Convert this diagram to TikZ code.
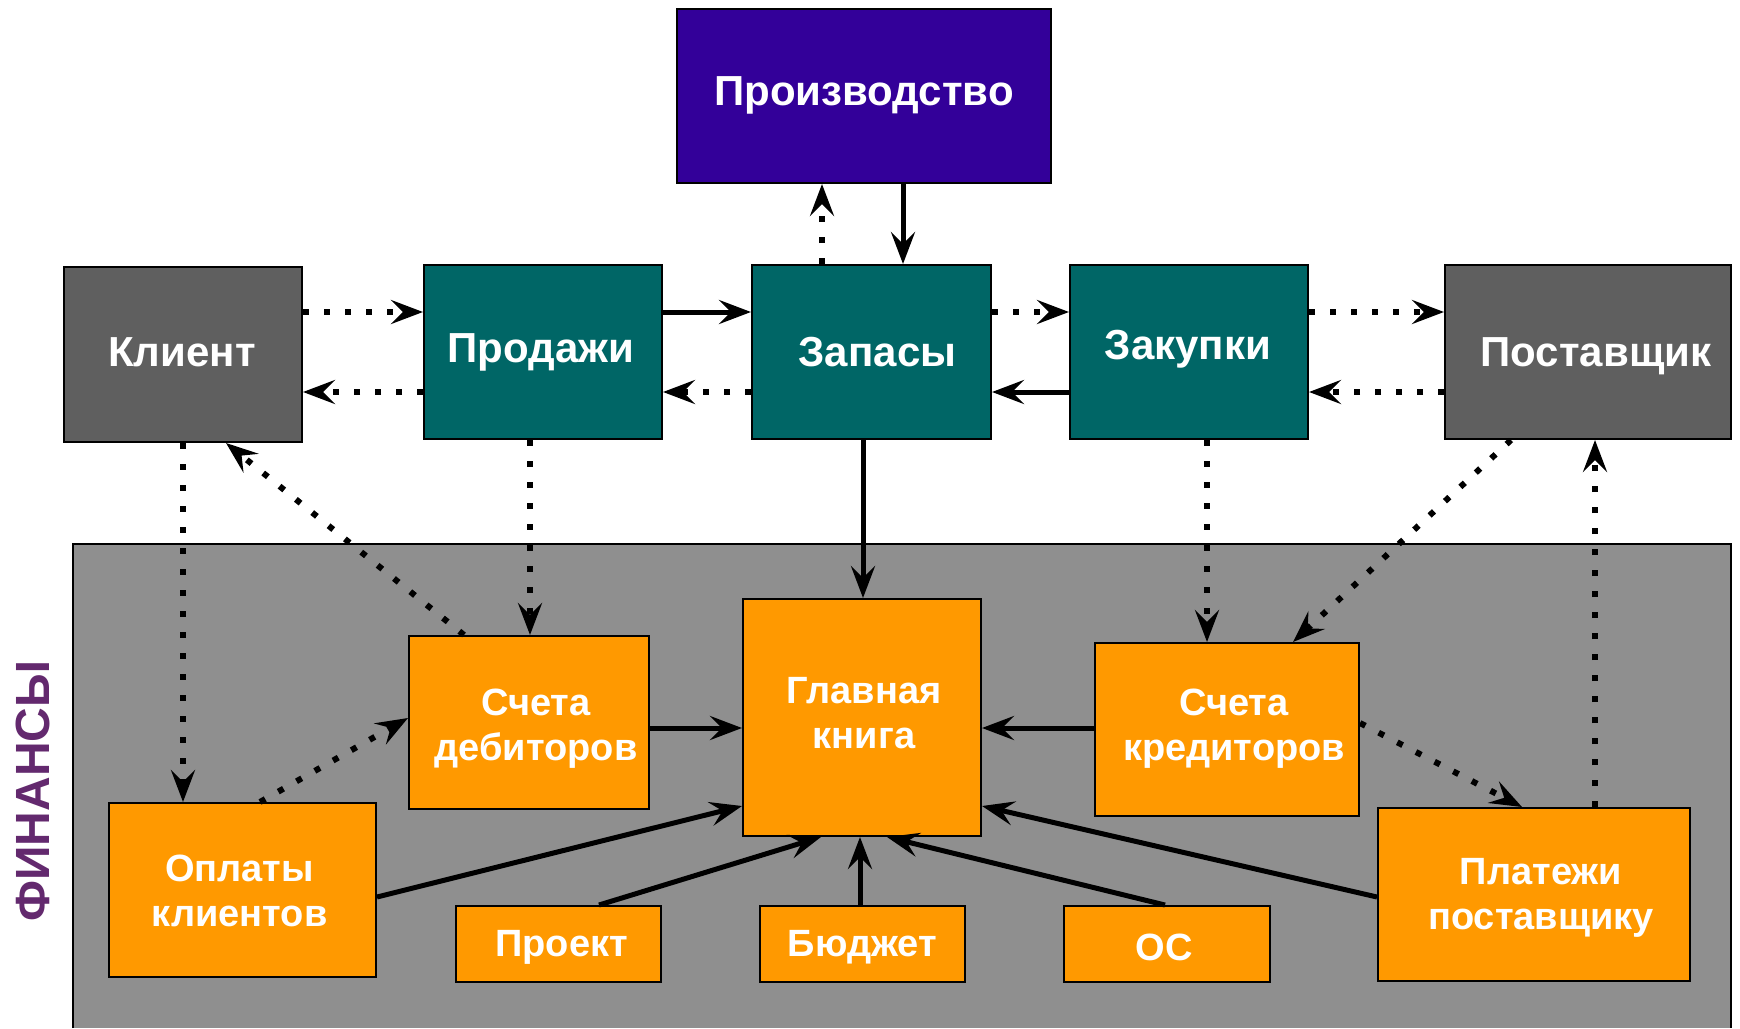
\documentclass[tikz,border=0pt]{standalone}
\usepackage{fontspec}
\setmainfont{Liberation Sans}
\usetikzlibrary{arrows.meta}
\definecolor{prodcol}{RGB}{51,0,153}
\definecolor{tealcol}{RGB}{0,102,102}
\definecolor{graycol}{RGB}{95,95,95}
\definecolor{orcol}{RGB}{255,153,0}
\definecolor{finbg}{RGB}{143,143,143}
\definecolor{fincol}{RGB}{99,41,110}
\begin{document}
\begin{tikzpicture}[x=0.5pt,y=-0.5pt,
  box/.style={draw=black, line width=1pt, inner sep=0pt},
  lbl/.style={inner sep=0pt, align=center, text=white},
  topf/.style={font=\bfseries\fontsize{21}{25}\selectfont},
  orf/.style={font=\bfseries\fontsize{19}{22.5}\selectfont},
  arrowhd/.style={-{Stealth[length=16pt,width=12pt,inset=6pt]}},
  solidarrow/.style={arrowhd, line width=2.5pt},
  dotarrow/.style={arrowhd, line width=3pt, dash pattern=on 3pt off 7.5pt},
]
\useasboundingbox (0,0) rectangle (1740,1028);
\fill[white] (0,0) rectangle (1740,1028);
% finance region
\fill[finbg] (73,544) rectangle (1731,1028);
\draw[line width=1pt] (73,1028) -- (73,544) -- (1731,544) -- (1731,1028);
\node[rotate=90, text=fincol, font=\bfseries\fontsize{24}{24}\selectfont] (fin) at (33,791) {ФИНАНСЫ};

% top boxes
\node[box, fill=prodcol, minimum width=187pt, minimum height=87pt] (proizv) at (864,96) {};
\node[box, fill=graycol, minimum width=119pt, minimum height=87.5pt] (klient) at (183,354.5) {};
\node[box, fill=tealcol, minimum width=119pt, minimum height=87pt] (prodazhi) at (543,352) {};
\node[box, fill=tealcol, minimum width=119.5pt, minimum height=87pt] (zapasy) at (871.5,352) {};
\node[box, fill=tealcol, minimum width=119pt, minimum height=87pt] (zakupki) at (1189,352) {};
\node[box, fill=graycol, minimum width=143pt, minimum height=87pt] (postav) at (1588,352) {};

% finance boxes
\node[box, fill=orcol, minimum width=120pt, minimum height=86.5pt] (debit) at (529,722.5) {};
\node[box, fill=orcol, minimum width=119pt, minimum height=118.5pt] (gl) at (862,717.5) {};
\node[box, fill=orcol, minimum width=132pt, minimum height=86.5pt] (kredit) at (1227,729.5) {};
\node[box, fill=orcol, minimum width=133.5pt, minimum height=87pt] (oplaty) at (242.5,890) {};
\node[box, fill=orcol, minimum width=102.5pt, minimum height=38pt] (proekt) at (558.5,944) {};
\node[box, fill=orcol, minimum width=102.5pt, minimum height=38pt] (budzhet) at (862.5,944) {};
\node[box, fill=orcol, minimum width=103pt, minimum height=38pt] (os) at (1167,944) {};
\node[box, fill=orcol, minimum width=156pt, minimum height=86.5pt] (platezhi) at (1534,894.5) {};

% labels
\node[lbl, topf] (proizvT) at ([shift={(0,-1)}]proizv.center) {Производство};
\node[lbl, topf] (klientT) at ([shift={(-1,-2)}]klient.center) {Клиент};
\node[lbl, topf] (prodazhiT) at ([shift={(-2,0)}]prodazhi.center) {Продажи};
\node[lbl, topf] (zapasyT) at ([shift={(6,0)}]zapasy.center) {Запасы};
\node[lbl, topf] (zakupkiT) at ([shift={(-1,-3)}]zakupki.center) {Закупки};
\node[lbl, topf] (postavT) at ([shift={(8,4)}]postav.center) {Поставщик};
\node[lbl, orf] (debitT) at ([shift={(7,6)}]debit.center) {Счета\\дебиторов};
\node[lbl, orf] (glT) at ([shift={(2,-4)}]gl.center) {Главная\\книга};
\node[lbl, orf] (kreditT) at ([shift={(7,-1)}]kredit.center) {Счета\\кредиторов};
\node[lbl, orf] (oplatyT) at ([shift={(-3,1)}]oplaty.center) {Оплаты\\клиентов};
\node[lbl, orf] (proektT) at ([shift={(3,3)}]proekt.center) {Проект};
\node[lbl, orf] (budzhetT) at ([shift={(0,3)}]budzhet.center) {Бюджет};
\node[lbl, orf] (osT) at ([shift={(-3,3)}]os.center) {ОС};
\node[lbl, orf] (platezhiT) at ([shift={(7,3)}]platezhi.center) {Платежи\\поставщику};

% top row connectors
\draw[dotarrow] (klient.east |- 0,312) -- (prodazhi.west |- 0,312);
\draw[dotarrow] (prodazhi.west |- 0,392) -- (klient.east |- 0,392);
\draw[solidarrow] (prodazhi.east |- 0,312) -- (zapasy.west |- 0,312);
\draw[dotarrow] (zapasy.west |- 0,392) -- (prodazhi.east |- 0,392);
\draw[dotarrow] (zapasy.east |- 0,312) -- (zakupki.west |- 0,312);
\draw[solidarrow] (zakupki.west |- 0,392) -- (zapasy.east |- 0,392);
\draw[dotarrow] (zakupki.east |- 0,312) -- (postav.west |- 0,312);
\draw[dotarrow] (postav.west |- 0,392) -- (zakupki.east |- 0,392);
\draw[dotarrow] (zapasy.north -| 822,0) -- (proizv.south -| 822,0);
\draw[solidarrow] (proizv.south -| 903,0) -- (zapasy.north -| 903,0);
\draw[solidarrow] (zapasy.south -| 863,0) -- (gl.north -| 863,0);

% left side
\draw[dotarrow] (klient.south -| 183,0) -- (oplaty.north -| 183,0);
\draw[dotarrow] (debit.north -| 464,0) -- (klient.south -| 226,0);
\draw[dotarrow] (prodazhi.south -| 530,0) -- (debit.north -| 530,0);
\draw[dotarrow] (oplaty.north -| 260,0) -- (debit.west |- 0,718);
\draw[solidarrow] (debit.east |- 0,728) -- (gl.west |- 0,728);
\draw[solidarrow] (oplaty.east |- 0,897) -- (gl.west |- 0,806);
\draw[solidarrow] (proekt.north -| 599,0) -- (gl.south -| 821,0);
\draw[solidarrow] (budzhet.north -| 860,0) -- (gl.south -| 860,0);
\draw[solidarrow] (os.north -| 1165,0) -- (gl.south -| 887,0);

% right side
\draw[solidarrow] (platezhi.west |- 0,897) -- (gl.east |- 0,806);
\draw[solidarrow] (kredit.west |- 0,728) -- (gl.east |- 0,728);
\draw[dotarrow] (zakupki.south -| 1207,0) -- (kredit.north -| 1207,0);
\draw[dotarrow] (postav.south -| 1511,0) -- (kredit.north -| 1293,0);
\draw[dotarrow] (kredit.east |- 0,723) -- (platezhi.north -| 1522,0);
\draw[dotarrow] (platezhi.north -| 1595,0) -- (postav.south -| 1595,0);
\end{tikzpicture}
\end{document}
